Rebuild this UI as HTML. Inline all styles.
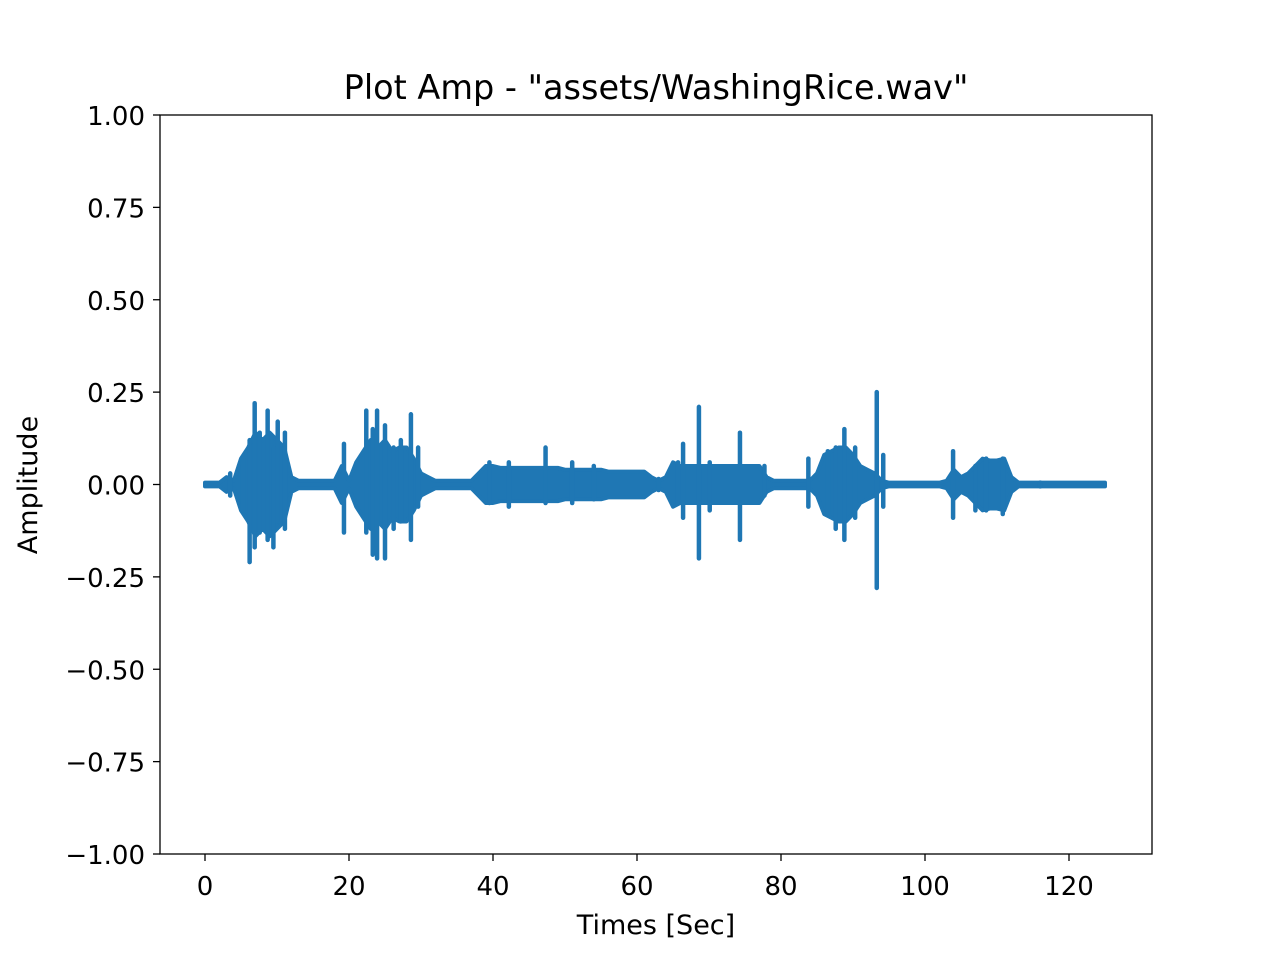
<!DOCTYPE html>
<html><head><meta charset="utf-8"><style>
body{margin:0;background:#fff}
svg{display:block}
text{font-family:"DejaVu Sans","Liberation Sans",sans-serif;fill:#000}
</style></head><body>
<svg id="chart" width="1280" height="960">
<rect width="1280" height="960" fill="#fff"/>
<text x="656" y="99" font-size="33.5" text-anchor="middle">Plot Amp - "assets/WashingRice.wav"</text>
<g id="plot"></g>
<rect x="160" y="115" width="992" height="739" fill="none" stroke="#000" stroke-width="1.3"/>
<g id="xt"></g>
<g id="yt"></g>
<text x="656" y="934" font-size="27" text-anchor="middle">Times [Sec]</text>
<text transform="translate(37,485) rotate(-90)" font-size="27" text-anchor="middle">Amplitude</text>
</svg>
<script>
const envelope=[.005,.005,.005,.02,.01,.07,.1,.14,.12,.14,.12,.1,.02,.01,.01,.01,.01,.01,.01,.05,.01,.06,.09,.12,.1,.12,.09,.1,.1,.07,.03,.02,.01,.01,.01,.01,.01,.01,.03,.05,.05,.045,.045,.045,.045,.045,.045,.045,.045,.045,.04,.04,.04,.04,.04,.04,.035,.035,.035,.035,.035,.035,.02,.01,.02,.06,.05,.05,.05,.05,.05,.05,.05,.05,.05,.05,.05,.05,.02,.01,.01,.01,.01,.01,.01,.03,.08,.09,.1,.1,.08,.05,.04,.03,.01,.005,.005,.005,.005,.005,.005,.005,.005,.01,.04,.02,.03,.05,.07,.065,.065,.07,.02,.005,.005,.005,.005,.005,.005,.005,.005,.005,.005,.005,.005,.005];
const spikeTimes=[3.5,5.3,6.2,6.9,7.6,8.7,9.5,10.1,11.1,19.3,22.4,23.3,23.9,25,26.2,27.2,28.6,29.6,39.5,42.2,47.3,51,54,63,65.7,66.4,68.6,70.1,74.3,77.7,83.8,86.5,87.6,88.8,90.3,93.3,94.2,103.9,107,108.5,110.8,116];
const spikeHigh=[.03,.07,.12,.22,.14,.2,.1,.17,.14,.11,.2,.15,.2,.16,.1,.12,.19,.1,.06,.06,.1,.06,.05,.015,.06,.11,.21,.06,.14,.05,.07,.09,.1,.15,.1,.25,.08,.09,.05,.07,.07,.005];
const spikeLow=[-.03,-.07,-.21,-.17,-.13,-.15,-.17,-.1,-.12,-.13,-.13,-.19,-.2,-.2,-.12,-.1,-.15,-.06,-.05,-.06,-.05,-.05,-.04,-.015,-.05,-.09,-.2,-.07,-.15,-.03,-.06,-.08,-.12,-.15,-.09,-.28,-.06,-.09,-.07,-.07,-.08,-.005];
const xTicks=[0,20,40,60,80,100,120];
const yTicks=[-1,-0.75,-0.5,-0.25,0,0.25,0.5,0.75,1];
const tEnd=125.5;
const X=t=>205+t*7.2, Y=a=>484.5-a*369.5;
const NS='http://www.w3.org/2000/svg';
const C='#1f77b4';
const plot=document.getElementById('plot');
function mk(tag,attrs,parent){const e=document.createElementNS(NS,tag);for(const k in attrs)e.setAttribute(k,attrs[k]);parent.appendChild(e);return e;}
let upperPts=[],lowerPts=[];
envelope.forEach((a,i)=>{const t=Math.min(i,tEnd);upperPts.push(X(t)+','+Y(a));lowerPts.unshift(X(t)+','+Y(-a));});
const poly=mk('polygon',{points:upperPts.concat(lowerPts).join(' '),fill:C,stroke:C,'stroke-width':4,'stroke-linejoin':'round'},plot);


spikeTimes.forEach((t,i)=>{
  const l=mk('line',{x1:X(t),x2:X(t),y1:Y(spikeHigh[i]),y2:Y(spikeLow[i]),stroke:C,'stroke-width':4.5,'stroke-linecap':'round'},plot);
  
  
});
const xt=document.getElementById('xt');
xTicks.forEach(v=>{
  const l=mk('line',{x1:X(v),x2:X(v),y1:854,y2:861,stroke:'#000','stroke-width':1.3},xt);
  
  
  const s=mk('text',{x:X(v),y:895,'font-size':26,'text-anchor':'middle'},xt);
  s.textContent=String(v);
  
  
});
const yt=document.getElementById('yt');
yTicks.forEach(v=>{
  const l=mk('line',{x1:153,x2:160,y1:Y(v),y2:Y(v),stroke:'#000','stroke-width':1.3},yt);
  
  
  const s=mk('text',{x:145,y:Y(v)+10,'font-size':26,'text-anchor':'end'},yt);
  s.textContent=(v<0?'\u2212':'')+Math.abs(v).toFixed(2);
  
  
});
</script>
</body></html>
